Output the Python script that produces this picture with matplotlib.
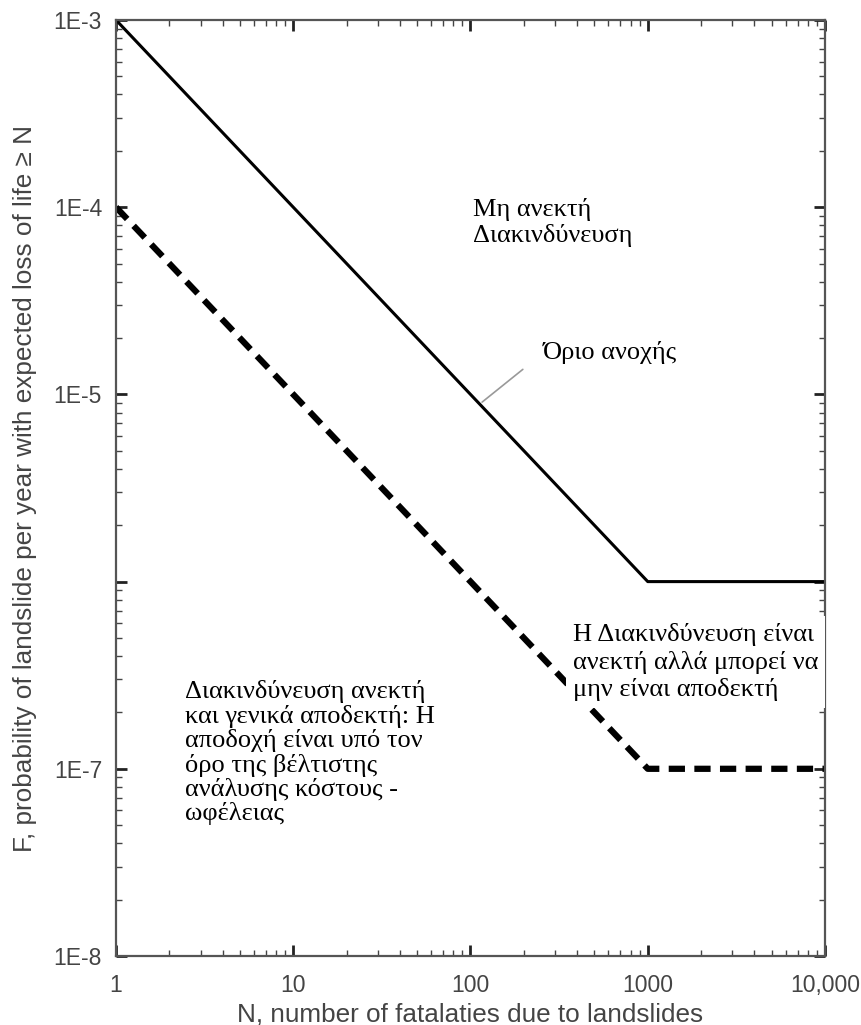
import matplotlib
matplotlib.use("Agg")
import matplotlib.pyplot as plt
from matplotlib.ticker import FixedLocator, FixedFormatter, LogLocator, NullFormatter

# ---- data ----
N_points = [1, 1000, 10000]
F_tolerable = [1e-3, 1e-6, 1e-6]      # tolerable limit (solid)
F_acceptable = [1e-4, 1e-7, 1e-7]     # acceptable limit (dashed)

x_ticks = [1, 10, 100, 1000, 10000]
x_labels = ["1", "10", "100", "1000", "10,000"]
y_ticks = [1e-8, 1e-7, 1e-6, 1e-5, 1e-4, 1e-3]
y_labels = ["1E-8", "1E-7", "", "1E-5", "1E-4", "1E-3"]

txt_unacceptable = "Μη ανεκτή\nΔιακινδύνευση"
txt_limit = "Όριο ανοχής"
txt_tolerable = "Η Διακινδύνευση είναι\nανεκτή αλλά μπορεί να\nμην είναι αποδεκτή"
txt_acceptable = ("Διακινδύνευση ανεκτή\nκαι γενικά αποδεκτή: Η\nαποδοχή είναι υπό τον\n"
                  "όρο της βέλτιστης\nανάλυσης κόστους -\nωφέλειας")

xlabel = "N, number of fatalaties due to landslides"
ylabel = "F, probability of landslide per year with expected loss of life \u2265 N"

# ---- figure ----
fig = plt.figure(figsize=(8.62, 10.25), dpi=100)
ax = fig.add_axes([116/862, 1-956/1025, 709/862, 936/1025])

ax.plot(N_points, F_tolerable, color="black", lw=2.2, solid_capstyle="butt")
ax.plot(N_points, F_acceptable, color="black", lw=4.5, dashes=(2.6, 1.5))

ax.set_xscale("log")
ax.set_yscale("log")
ax.set_xlim(1, 10000)
ax.set_ylim(1e-8, 1e-3)

ax.xaxis.set_major_locator(FixedLocator(x_ticks))
ax.xaxis.set_major_formatter(FixedFormatter(x_labels))
ax.yaxis.set_major_locator(FixedLocator(y_ticks))
ax.yaxis.set_major_formatter(FixedFormatter(y_labels))
ax.xaxis.set_minor_locator(LogLocator(base=10, subs=range(2, 10), numticks=20))
ax.yaxis.set_minor_locator(LogLocator(base=10, subs=range(2, 10), numticks=20))
ax.xaxis.set_minor_formatter(NullFormatter())
ax.yaxis.set_minor_formatter(NullFormatter())

spine_col = "#555555"
for s in ax.spines.values():
    s.set_color(spine_col)
    s.set_linewidth(1.6)

ax.tick_params(which="major", direction="in", length=8, width=2.0, color="#222222",
               top=True, right=True, labelsize=16.5, labelcolor="#444444",
               labelfontfamily="Liberation Sans")
ax.tick_params(which="minor", direction="in", length=4, width=1.0, color="#444444",
               top=True, right=True)
ax.tick_params(axis="x", which="major", pad=13)
ax.tick_params(axis="y", which="major", pad=10)

ax.set_xlabel(xlabel, fontsize=18.8, color="#444444", family="Liberation Sans", labelpad=4)
ax.set_ylabel(ylabel, fontsize=18.8, color="#444444", family="Liberation Sans", labelpad=12)

serif = dict(family="Liberation Serif", color="black", fontsize=19)
ax.text(0.5035, 0.784, txt_unacceptable, transform=ax.transAxes, ha="left", va="center",
        linespacing=1.18, **serif)
ax.text(0.602, 0.645, txt_limit, transform=ax.transAxes, ha="left", va="center", **serif)
ax.text(0.6446, 0.314, txt_tolerable, transform=ax.transAxes, ha="left", va="center",
        linespacing=1.25, zorder=5, clip_on=False,
        bbox=dict(facecolor="white", edgecolor="none", pad=5), **serif)
ax.text(0.0973, 0.217, txt_acceptable, transform=ax.transAxes, ha="left", va="center",
        linespacing=1.08, **serif)

ax.annotate("", xy=(113, 8.9e-6), xytext=(203, 1.39e-5),
            arrowprops=dict(arrowstyle="-", color="#999999", lw=1.2))

fig.savefig("out.png", dpi=100)
